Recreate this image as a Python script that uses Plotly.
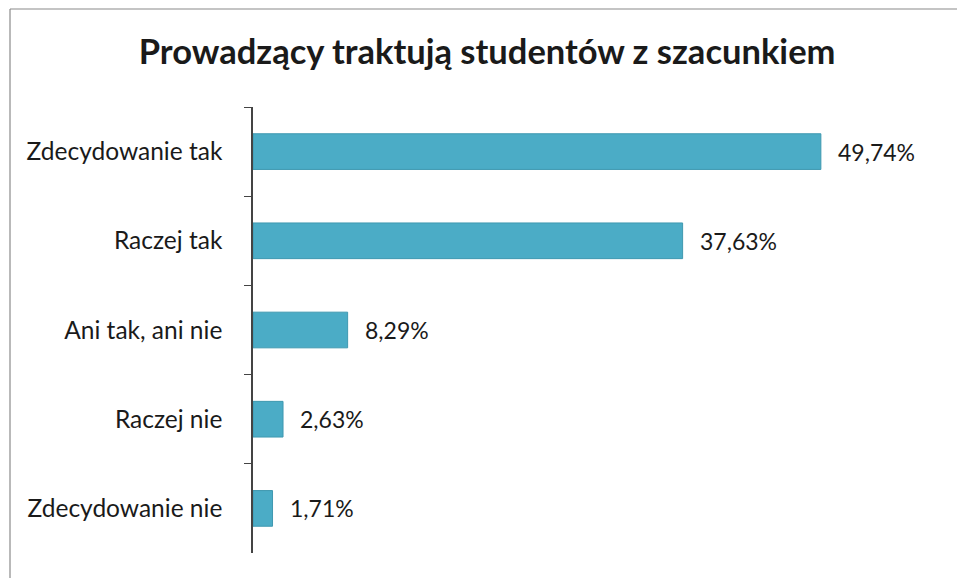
import plotly.graph_objects as go

categories = ["Zdecydowanie tak", "Raczej tak", "Ani tak, ani nie", "Raczej nie", "Zdecydowanie nie"]
values = [49.74, 37.63, 8.29, 2.63, 1.71]
value_labels = [f"{v:.2f}".replace(".", ",") + "%" for v in values]
title_text = "Prowadzący traktują studentów z szacunkiem"

FONT = "Lato"
W, H = 957, 578
L, R, T, B = 253, 19, 107, 25
pw, ph = W - L - R, H - T - B

def px_x(p):
    return (p - L) / pw

def px_y(p):
    return (H - B - p) / ph

fig = go.Figure()
fig.add_trace(go.Bar(
    y=categories, x=values, orientation="h",
    marker=dict(color="#4BACC6", line=dict(color="#3f98b0", width=1)),
    width=0.4,
    hoverinfo="skip",
))

annotations = [
    dict(x=v, y=c, xref="x", yref="y", text=t, showarrow=False, xanchor="left",
         yanchor="middle", xshift=15, font=dict(size=23, color="#1a1a1a", family=FONT))
    for c, v, t in zip(categories, values, value_labels)
]

fig.update_layout(
    width=W, height=H,
    margin=dict(l=L, r=R, t=T, b=B),
    paper_bgcolor="white", plot_bgcolor="white",
    showlegend=False,
    font=dict(family=FONT, color="#1a1a1a"),
    title=dict(text=f"<b>{title_text}</b>", x=0.509, xanchor="center", xref="container",
               y=1 - 52 / H, yanchor="middle", yref="container",
               font=dict(size=34.5, family=FONT, color="#1a1a1a")),
    xaxis=dict(range=[0, 60], visible=False, fixedrange=True),
    yaxis=dict(autorange="reversed", showline=True, linecolor="#444", linewidth=1.5,
               ticks="outside", tickson="boundaries", ticklen=7, tickcolor="#444",
               tickfont=dict(size=24.5, color="#1a1a1a", family=FONT),
               ticklabelstandoff=24, showgrid=False, zeroline=False, fixedrange=True),
    annotations=annotations,
    shapes=[
        dict(type="line", xref="paper", yref="paper", x0=px_x(10), x1=px_x(10),
             y0=px_y(9), y1=px_y(H + 5), line=dict(color="#8a8a8a", width=1.2)),
        dict(type="line", xref="paper", yref="paper", x0=px_x(10), x1=px_x(W + 5),
             y0=px_y(9), y1=px_y(9), line=dict(color="#8a8a8a", width=1.2)),
    ],
)

fig.write_html("out.html", config={"displayModeBar": False},
               post_script="document.body.style.margin='0';document.body.style.overflow='hidden';")
